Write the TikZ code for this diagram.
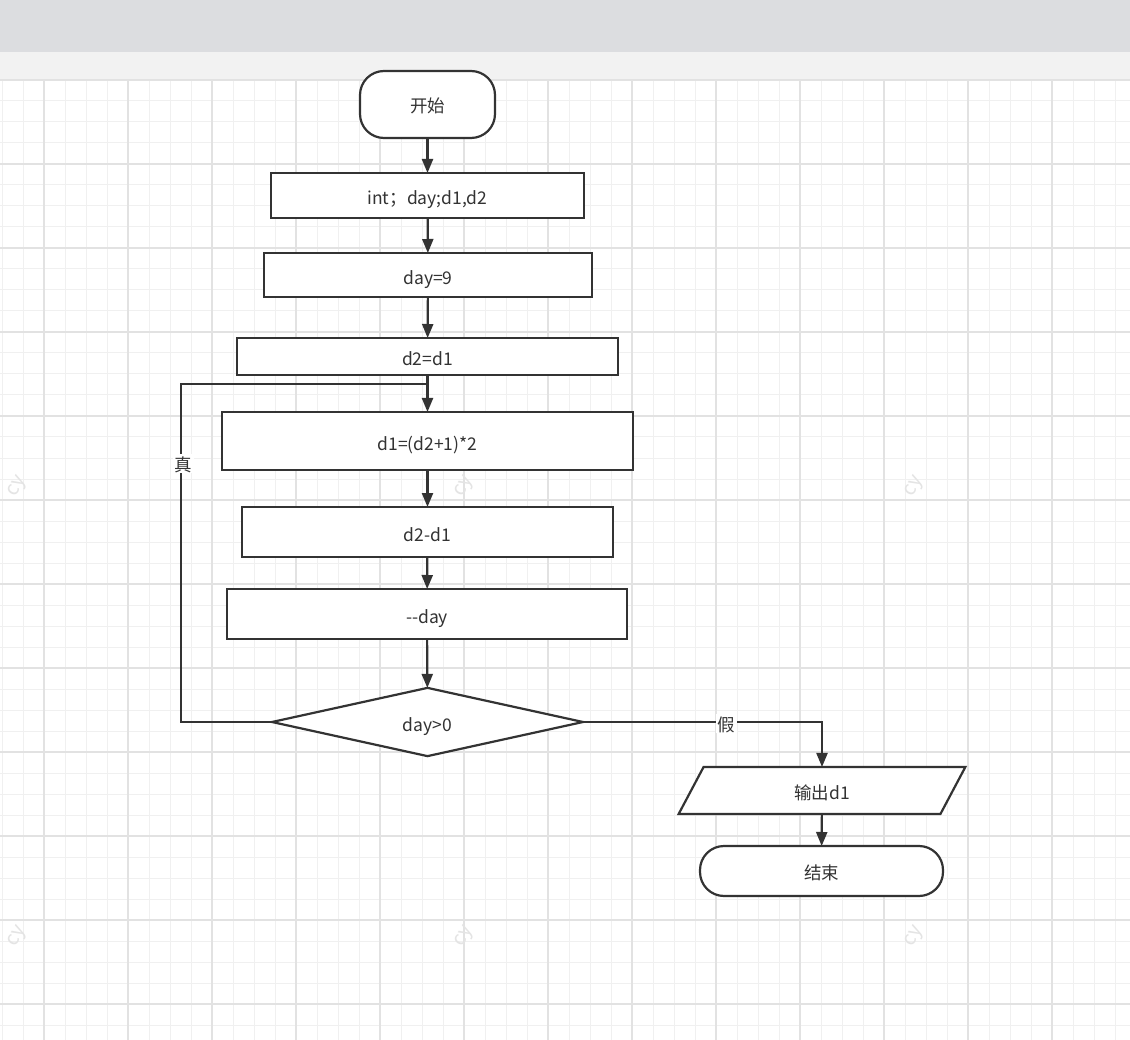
\documentclass[tikz,border=0pt]{standalone}
\usepackage{fontspec}
\setmainfont{Noto Sans CJK SC}
\usetikzlibrary{arrows.meta,shapes.geometric}
\definecolor{ink}{HTML}{333333}
\definecolor{gridminor}{HTML}{F0F0F0}
\definecolor{gridmajor}{HTML}{E2E2E2}
\definecolor{topband}{HTML}{DCDDE0}
\definecolor{subband}{HTML}{F2F2F2}
\definecolor{wmark}{HTML}{E4E4E4}
\tikzset{
  every node/.style={font=\fontsize{17.5}{20}\selectfont, text=ink},
  latin/.style={text height=19pt, text depth=0pt},
  hanzi/.style={text height=16pt, text depth=0pt},
  mixed/.style={text height=18pt, text depth=0pt},
  box/.style={draw=ink, line width=2.2pt, fill=white, rectangle, inner sep=0pt, outer sep=0pt, latin},
  term/.style={box, rounded corners=24pt, hanzi},
  cond/.style={draw=ink, line width=2.2pt, fill=white, diamond, inner sep=0pt, outer sep=0pt, latin},
  io/.style={draw=ink, line width=2.2pt, fill=white, trapezium, trapezium left angle=72, trapezium right angle=108, trapezium stretches=true, inner sep=0pt, outer sep=0pt, mixed},
  flow/.style={draw=ink, line width=2.2pt, -{Triangle[length=14pt,width=11pt]}},
  link/.style={draw=ink, line width=2.2pt},
  lbl/.style={fill=white, inner sep=1.5pt, hanzi},
  wm/.style={text=wmark, font=\fontsize{20}{22}\selectfont, rotate=60, inner sep=0pt}
}
\begin{document}
\begin{tikzpicture}[x=1pt,y=-1pt]
\useasboundingbox (0,0) rectangle (1130,1040);
% backgrounds
\fill[white] (0,0) rectangle (1130,1040);
\fill[topband] (0,0) rectangle (1130,52);
\fill[subband] (0,52) rectangle (1130,80);
% grid
\foreach \x in {2,23,...,1130} \draw[gridminor, line width=1pt] (\x,80) -- (\x,1040);
\foreach \y in {80,101,...,1040} \draw[gridminor, line width=1pt] (0,\y) -- (1130,\y);
\foreach \x in {44,128,...,1130} \draw[gridmajor, line width=1.3pt] (\x,80) -- (\x,1040);
\foreach \y in {80,164,...,1040} \draw[gridmajor, line width=1.3pt] (0,\y) -- (1130,\y);
% watermarks
\node[wm] (w1) at (18,487) {cy};
\node[wm] (w2) at (465,487) {cy};
\node[wm] (w3) at (915,487) {cy};
\node[wm] (w4) at (18,937) {cy};
\node[wm] (w5) at (465,937) {cy};
\node[wm] (w6) at (915,937) {cy};
% nodes
\node[term, minimum width=135pt, minimum height=67pt] (start) at (427.5,104.5) {开始};
\node[box, minimum width=313pt, minimum height=45pt, mixed] (s1) at (427.5,195.5) {int；day;d1,d2};
\node[box, minimum width=328pt, minimum height=44pt] (s2) at (428,275) {day=9};
\node[box, minimum width=381pt, minimum height=37pt] (s3) at (427.5,356.5) {d2=d1};
\node[box, minimum width=411pt, minimum height=58pt] (s4) at (427.5,441) {d1=(d2+1)*2};
\node[box, minimum width=371pt, minimum height=50pt] (s5) at (427.5,532) {d2-d1};
\node[box, minimum width=400pt, minimum height=50pt] (s6) at (427,614) {-{}-day};
\node[cond, minimum width=311pt, minimum height=66pt] (dec) at (427.5,722) {day>0};
\node[io, minimum width=288pt, minimum height=47pt] (out) at (822,790.5) {输出d1};
\node[term, minimum width=243pt, minimum height=50pt] (end) at (821.5,871) {结束};
\coordinate (lp) at (181,384);
\coordinate (mg) at (427.5,384);
% connectors
\draw[flow] (start) -- (s1);
\draw[flow] (s1) -- (s2);
\draw[flow] (s2) -- (s3);
\draw[flow] (s3) -- (s4);
\draw[flow] (s4) -- (s5);
\draw[flow] (s5) -- (s6);
\draw[flow] (s6) -- (dec);
\draw[link] (dec.west) -| (lp) -- (mg);
\draw[flow] (dec.east) -| (out.north);
\draw[flow] (out) -- (end);
% labels
\node[lbl] (tl) at (183.5,463.2) {真};
\node[lbl] (fl) at (726.5,723.4) {假};
\end{tikzpicture}
\end{document}
